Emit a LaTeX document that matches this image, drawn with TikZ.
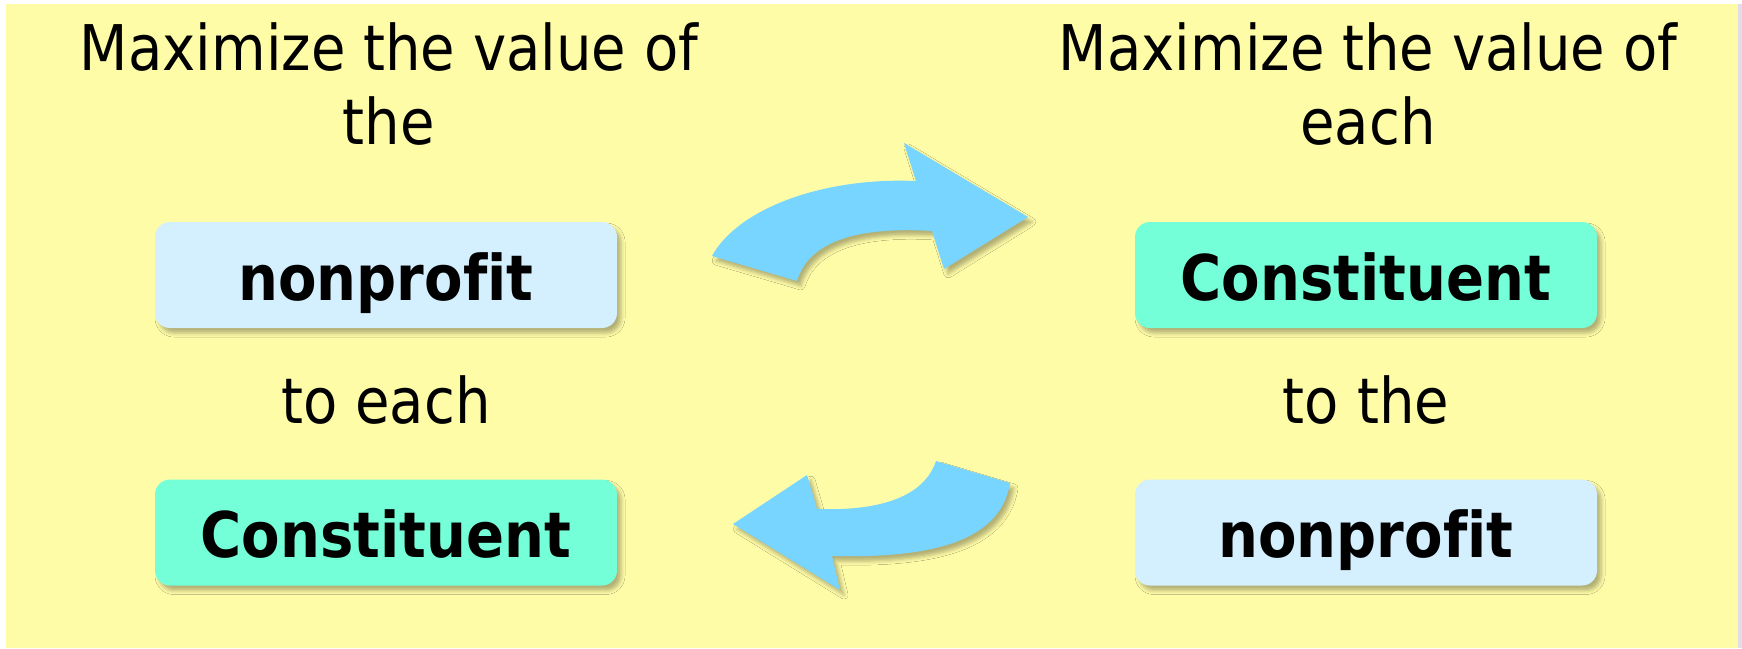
\documentclass[tikz,border=0pt]{standalone}
\usepackage{fontspec}
\setmainfont[FakeStretch=0.89,Ligatures=NoCommon]{DejaVu Sans}
\usetikzlibrary{shadows.blur}

\definecolor{pagebg}{HTML}{FFFCA8}
\definecolor{edgetint}{HTML}{E2DCEA}
\definecolor{orgblue}{HTML}{D4F0FF}
\definecolor{peoplegreen}{HTML}{75FFD8}
\definecolor{arrowblue}{HTML}{78D5FF}
\definecolor{shadowtint}{RGB}{140,110,190}

\begin{document}
\begin{tikzpicture}[x=1pt,y=-1pt,
  every shadow/.append style={fill=shadowtint},
  softshadow/.style={blur shadow={shadow xshift=4pt,shadow yshift=-5pt,
      shadow blur radius=4pt,shadow opacity=30}},
  caption/.style={font=\fontsize{63}{74}\selectfont, align=center,
      inner sep=0pt, anchor=base},
  tag/.style={softshadow, rounded corners=15pt, minimum width=462pt,
      minimum height=106pt, font=\fontsize{63}{74}\selectfont\bfseries,
      inner sep=0pt, text height=60pt, text depth=10pt},
  org/.style={tag, fill=orgblue},
  member/.style={tag, fill=peoplegreen},
  turn/.style={softshadow, fill=arrowblue}]

  % page and canvas
  \useasboundingbox (0,0) rectangle (1742,648);
  \fill[white] (0,0) rectangle (1742,648);
  \fill[edgetint] (1738,4) rectangle (1742,648);
  \fill[pagebg] (6,4) rectangle (1738,648);

  % left column: value of the nonprofit to each constituent
  \node[caption] (lhead) at (389,144) {Maximize the value of\\the};
  \node[org] (lorg) at (386,275) {nonprofit};
  \node[caption] (lmid) at (386,423) {to each};
  \node[member] (lmem) at (386,532.5) {Constituent};

  % right column: value of each constituent to the nonprofit
  \node[caption] (rhead) at (1368,144) {Maximize the value of\\each};
  \node[member] (rmem) at (1366,275) {Constituent};
  \node[caption] (rmid) at (1366,423) {to the};
  \node[org] (rorg) at (1366,532.5) {nonprofit};

  % curved arrow, left to right
  \path[turn] (712,256) .. controls (737,210) and (820,177) .. (916,181)
    -- (904,143) -- (1028,217) -- (944,269) -- (932,231)
    .. controls (867,227) and (810,237) .. (797,281) -- cycle;

  % curved arrow, right to left
  \path[turn] (1010,483) .. controls (1000,547) and (917,558) .. (832,556)
    -- (840,590) -- (733,524) -- (807,475) -- (817,509)
    .. controls (873,511) and (923,500) .. (936,461) -- cycle;
\end{tikzpicture}
\end{document}
